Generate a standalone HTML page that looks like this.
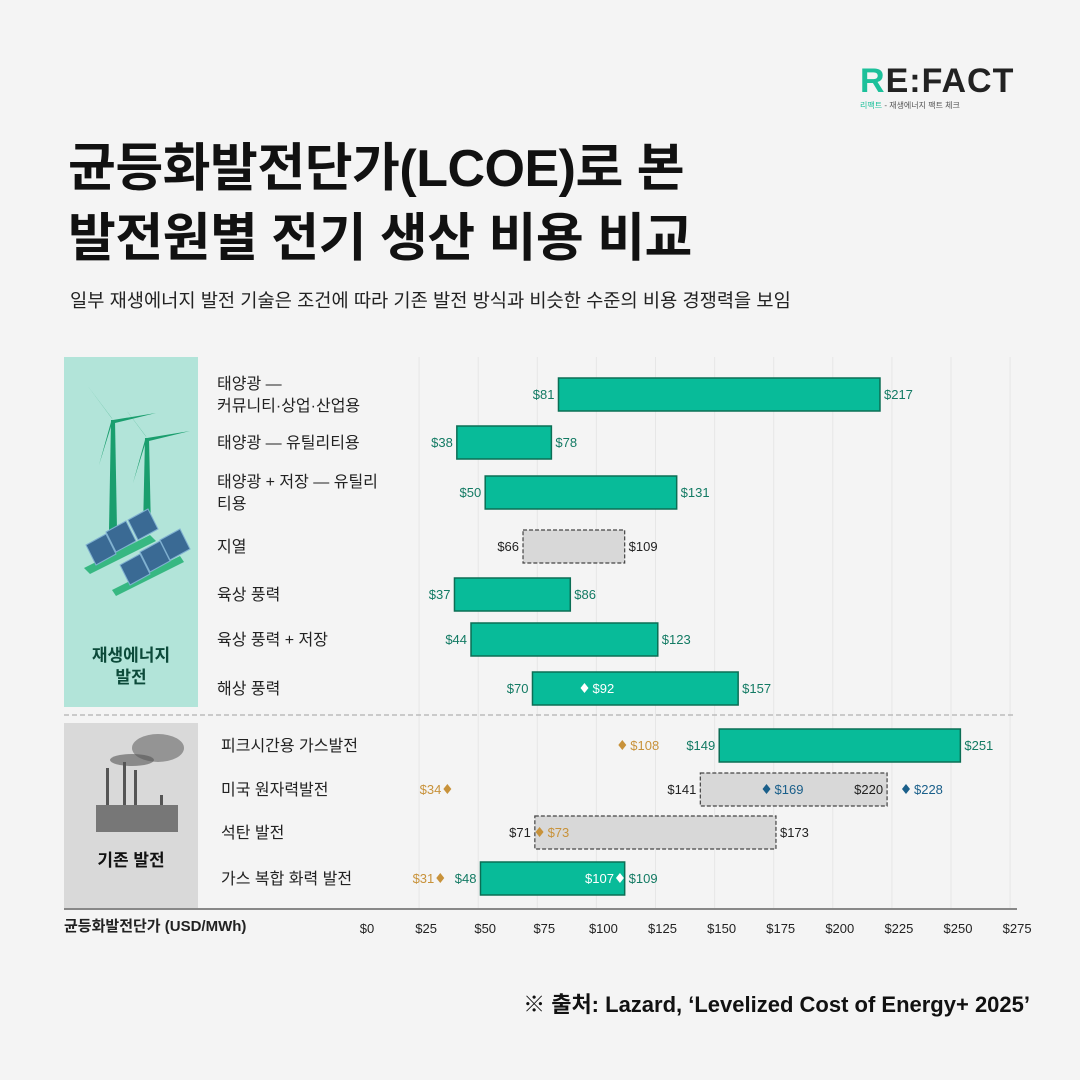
<!DOCTYPE html>
<html><head><meta charset="utf-8">
<style>
body{margin:0;width:1080px;height:1080px;background:#f4f4f4;font-family:"Liberation Sans","Noto Sans CJK KR",sans-serif;position:relative;overflow:hidden}
.t{position:absolute;color:#111}
</style></head><body>
<div class="t" style="left:860px;top:62px;font-size:34px;font-weight:bold;letter-spacing:1px;color:#222"><span style="color:#1cc09a">R</span>E:FACT</div>
<div class="t" style="left:860px;top:100px;font-size:8px;color:#555"><span style="color:#1cc09a">리팩트</span> - 재생에너지 팩트 체크</div>
<div class="t" style="left:68px;top:134px;font-size:52px;font-weight:bold;line-height:70px;letter-spacing:-0.5px">균등화발전단가(LCOE)로 본<br>발전원별 전기 생산 비용 비교</div>
<div class="t" style="left:70px;top:286px;font-size:18.7px;color:#222">일부 재생에너지 발전 기술은 조건에 따라 기존 발전 방식과 비슷한 수준의 비용 경쟁력을 보임</div>
<div class="t" style="right:50px;top:987px;font-size:22px;font-weight:bold">※ 출처: Lazard, ‘Levelized Cost of Energy+ 2025’</div>
<svg id="chart" width="1080" height="1080" style="position:absolute;left:0;top:0" font-family="Liberation Sans, Noto Sans CJK KR, sans-serif"></svg>
<script>
const categories=["태양광 —|커뮤니티·상업·산업용","태양광 — 유틸리티용","태양광 + 저장 — 유틸리|티용","지열","육상 풍력","육상 풍력 + 저장","해상 풍력","피크시간용 가스발전","미국 원자력발전","석탄 발전","가스 복합 화력 발전"];
const lowValues=[81,38,50,66,37,44,70,149,141,71,48];
const highValues=[217,78,131,109,86,123,157,251,220,173,109];
const barTypes=["g","g","g","d","g","g","g","g","d","d","g"];
const markerRows=[6,7,8,8,8,9,10,10];
const markerValues=[92,108,34,169,228,73,31,107];
const markerColors=["w","o","o","b","b","o","o","w"];
const markerSides=["r","r","l","r","r","r","l","l"];
const ticks=[0,25,50,75,100,125,150,175,200,225,250,275];
const rowY=[394,442,492,546,594,639,688,745,789,832,878];
const NS="http://www.w3.org/2000/svg";
const svg=document.getElementById('chart');
const x=v=>367+v*2.364;
function mk(tag,a,p){const e=document.createElementNS(NS,tag);for(const k in a)e.setAttribute(k,a[k]);(p||svg).appendChild(e);return e;}
let e=mk('rect',{x:64,y:357,width:134,height:350,fill:'#b2e4d9'});

e=mk('rect',{x:64,y:723,width:134,height:185,fill:'#d9d9d9'});

[[113,420],[147,438]].forEach(([cx,cy])=>{
 mk('polygon',{points:`${cx-2},${cy} ${cx+2},${cy} ${cx+4},530 ${cx-4},530`,fill:'#1a9e6e'});
 mk('polygon',{points:`${cx},${cy} ${cx-26},${cy-35} ${cx-2},${cy-3}`,fill:'#1a9e6e'});
 mk('polygon',{points:`${cx},${cy} ${cx+43},${cy-7} ${cx+2},${cy+3}`,fill:'#1a9e6e'});
 mk('polygon',{points:`${cx},${cy} ${cx-14},${cy+45} ${cx-2},${cy+2}`,fill:'#1a9e6e'});
});
mk('polygon',{points:'84,568 150,535 156,541 90,574',fill:'#37b882'});
mk('polygon',{points:'112,590 180,556 184,562 116,596',fill:'#37b882'});
[[86,545],[106,532],[128,520],[120,565],[140,552],[160,540]].forEach(([px,py])=>{
 mk('polygon',{points:`${px},${py} ${px+20},${py-11} ${px+30},${py+9} ${px+10},${py+20}`,fill:'#3a6a94',stroke:'#7fb0d0','stroke-width':1});
});
mk('text',{x:131,y:661,'text-anchor':'middle','font-size':17,'font-weight':'bold',fill:'#0c4a3a'}).textContent='재생에너지';
mk('text',{x:131,y:683,'text-anchor':'middle','font-size':17,'font-weight':'bold',fill:'#0c4a3a'}).textContent='발전';
mk('ellipse',{cx:158,cy:748,rx:26,ry:14,fill:'#666',opacity:.6});
mk('ellipse',{cx:132,cy:760,rx:22,ry:6,fill:'#555',opacity:.6});
[[106,768],[123,762],[134,770],[160,795]].forEach(([sx,sy])=>mk('rect',{x:sx,y:sy,width:3,height:832-sy,fill:'#555'}));
mk('rect',{x:96,y:805,width:82,height:27,fill:'#777'});
mk('text',{x:131,y:866,'text-anchor':'middle','font-size':17,'font-weight':'bold',fill:'#111'}).textContent='기존 발전';
ticks.forEach((t,i)=>{if(i>0)mk('line',{x1:x(t)-7,x2:x(t)-7,y1:357,y2:908,stroke:'#e6e6e6','stroke-width':1});
 const tl=mk('text',{x:x(t),y:933,'text-anchor':'middle','font-size':13,fill:'#222'});tl.textContent='$'+t;
 });
mk('line',{x1:64,x2:1015,y1:715,y2:715,stroke:'#bbb','stroke-width':1.5,'stroke-dasharray':'5,3'});
mk('line',{x1:64,x2:1017,y1:909,y2:909,stroke:'#888','stroke-width':2});
const at=mk('text',{x:64,y:931,'font-size':15,'font-weight':'bold',fill:'#222'});at.textContent='균등화발전단가 (USD/MWh)';

categories.forEach((c,i)=>{
 const y=rowY[i],parts=c.split('|'),lx=i<7?217:221;
 parts.forEach((p,j)=>{const t=mk('text',{x:lx,y:y+6+(parts.length>1?(j-0.5)*22:0),'font-size':16,fill:'#222'});t.textContent=p;
  });
 const g=barTypes[i]=='g';
 const r=mk('rect',{x:x(lowValues[i]),y:y-16,width:x(highValues[i])-x(lowValues[i]),height:33,fill:g?'#08bb99':'#d8d8d8',stroke:g?'#0b6e55':'#444','stroke-width':g?1.5:1.2,'stroke-dasharray':g?'':'4,2'});
 
 const col=g?'#127a63':'#222';
 const a=mk('text',{x:x(lowValues[i])-4,y:y+5,'text-anchor':'end','font-size':13,fill:col});a.textContent='$'+lowValues[i];
 
 const inside=(i==8);
 const b=mk('text',{x:inside?x(highValues[i])-4:x(highValues[i])+4,y:y+5,'text-anchor':inside?'end':'start','font-size':13,fill:col});b.textContent='$'+highValues[i];
 
});
const cmap={w:'#ffffff',o:'#c8923a',b:'#1a5f8a'};
markerRows.forEach((ri,k)=>{
 const cx=x(markerValues[k]),cy=rowY[ri],c=cmap[markerColors[k]];
 const d=mk('polygon',{points:`${cx},${cy-5} ${cx+4},${cy} ${cx},${cy+5} ${cx-4},${cy}`,fill:c});
 
 const r=markerSides[k]=='r';
 const t=mk('text',{x:r?cx+8:cx-6,y:cy+5,'text-anchor':r?'start':'end','font-size':13,fill:c});t.textContent='$'+markerValues[k];
 
});
</script>
</body></html>
